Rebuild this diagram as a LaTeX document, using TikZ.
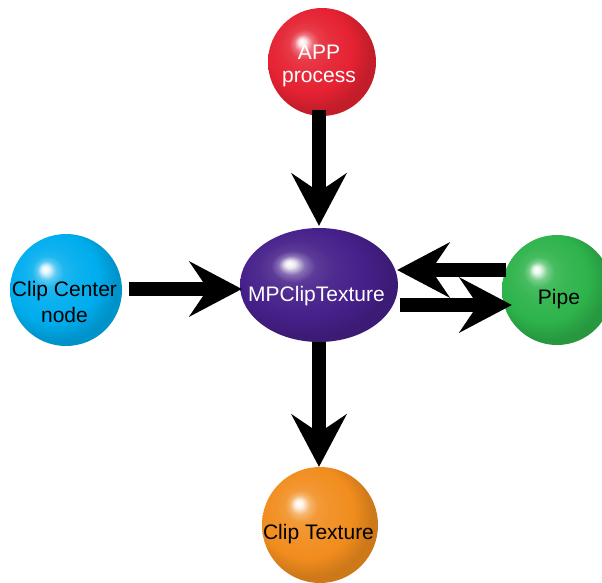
\documentclass[tikz,border=0pt]{standalone}
\usepackage{fontspec}
\setmainfont{Liberation Sans}
\usetikzlibrary{shapes.geometric,arrows.meta,calc}
\definecolor{redc}{RGB}{229,34,50}
\definecolor{purplec}{RGB}{70,32,138}
\definecolor{bluec}{RGB}{0,173,238}
\definecolor{greenc}{RGB}{46,179,75}
\definecolor{orangec}{RGB}{241,141,30}
\colorlet{ballbase}{redc}
% the node edge corresponds to 25bp in a TikZ shading
\pgfdeclareradialshading[ballbase]{myball}{\pgfpoint{-9.5bp}{9.5bp}}{%
 color(0bp)=(white);
 color(1.6bp)=(ballbase!10!white);
 color(4.2bp)=(ballbase!65!white);
 color(7bp)=(ballbase!88!white);
 color(12bp)=(ballbase!95!white);
 color(20bp)=(ballbase);
 color(27bp)=(ballbase!85!black);
 color(50bp)=(ballbase!85!black)}
\tikzset{
  ballnode/.style={/utils/exec={\colorlet{ballbase}{#1}}, shading=myball, inner sep=0pt},
  roundball/.style={ballnode=#1, circle},
  ovalball/.style={ballnode=#1, ellipse},
  lbl/.style={inner sep=0pt, font=\fontsize{21}{24}\selectfont},
  bigarrow/.style={line width=14pt,
    -{Stealth[length=53pt,width=56pt,inset=19pt,line width=0pt]}}
}
\begin{document}
\begin{tikzpicture}[x=1pt,y=-1pt]
\clip (0,0) rectangle (602,583);
\fill[white] (0,0) rectangle (602,583);
% balls
\node[roundball=redc, minimum size=108pt] (app) at (322,62) {};
\node[ovalball=purplec, minimum width=158pt, minimum height=114pt] (mp) at (319,285) {};
\node[roundball=bluec, minimum size=112pt] (cc) at (66,290) {};
\node[roundball=greenc, minimum size=110pt] (pipe) at (557,290) {};
\node[roundball=orangec, minimum size=116pt] (ct) at (320,525) {};
% labels
\node[lbl, text=white, align=center, anchor=north, font=\fontsize{21}{23}\selectfont] (apptxt) at (319,45) {APP\\process};
\node[lbl, text=white, anchor=base] (mptxt) at (316.5,301) {MPClipTexture};
\node[lbl, text=black, align=center, anchor=north, font=\fontsize{21}{26}\selectfont] (cctxt) at (64.5,281) {Clip Center\\node};
\node[lbl, text=black, anchor=base] (pipetxt) at (559,304) {Pipe};
\node[lbl, text=black, anchor=base] (cttxt) at (318.5,539) {Clip Texture};
% arrows
\draw[bigarrow] ([shift={(-3,-6)}]app.south) -- ([shift={(0,-2)}]mp.north);
\draw[bigarrow] ([shift={(7,-1)}]cc.east) -- ([shift={(2,4)}]mp.west);
\draw[bigarrow] (mp.south) -- ([shift={(-1,0)}]ct.north);
\draw[bigarrow] ([shift={(4,-20)}]pipe.west) -- ([shift={(-1,-15)}]mp.east);
\draw[bigarrow] ([shift={(2,20)}]mp.east) -- ([shift={(10,15)}]pipe.west);
\end{tikzpicture}
\end{document}
